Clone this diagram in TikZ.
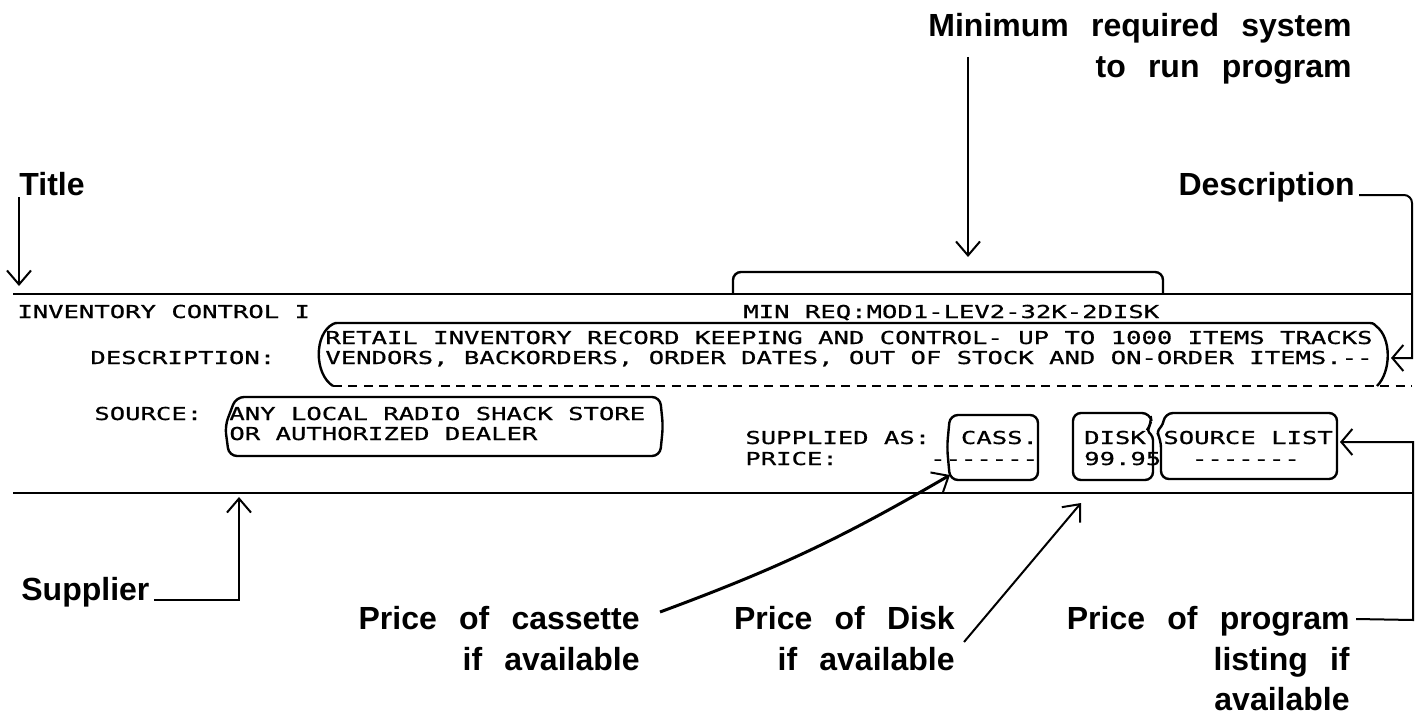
\documentclass[tikz,border=0pt]{standalone}
\usepackage{fontspec}
\setmainfont{Liberation Sans}[WordSpace=2.5]
\newfontfamily\mono{DejaVu Sans Mono}[FakeStretch=1.437,FakeBold=0.8]
\usetikzlibrary{arrows.meta}
\begin{document}
\begin{tikzpicture}[x=0.5pt,y=-0.5pt,
  lbl/.style={font=\fontsize{16}{18}\selectfont\bfseries, inner sep=0pt},
  mt/.style={font=\mono\fontsize{8.9}{10}\selectfont, inner sep=0pt, anchor=base west},
  rule/.style={line width=1pt},
  box/.style={line width=1.2pt, rounded corners=4pt},
  barb/.style={-{Straight Barb[length=7pt,width=12pt,line width=1pt]}},
  wbarb/.style={-{Straight Barb[length=5.5pt,width=13pt,line width=1pt]}},
  conn/.style={line width=1pt},
]
\useasboundingbox (0,0) rectangle (1417,717);

% rules
\coordinate (topL) at (13,294); \coordinate (topR) at (1413,294);
\coordinate (botL) at (13,493); \coordinate (botR) at (1413,493);
\draw[rule] (topL) -- (topR);
\draw[rule] (botL) -- (botR);
\coordinate (dashL) at (333,386); \coordinate (dashR) at (1412,386);
\draw[line width=1pt, dash pattern=on 4.5pt off 3.2pt] (dashL) -- (dashR);

% labels
\node[lbl, anchor=base east] (minA) at (1352,37) {Minimum required system};
\node[lbl, anchor=base east] (minB) at (1352,77) {to run program};
\node[lbl, anchor=base west] (title) at (19,195) {Title};
\node[lbl, anchor=base east] (desc) at (1355,195) {Description};
\node[lbl, anchor=base west] (sup) at (21,600) {Supplier};
\node[lbl, anchor=base east] (pc1) at (640,629) {Price of cassette};
\node[lbl, anchor=base east] (pc2) at (640,670) {if available};
\node[lbl, anchor=base east] (pd1) at (955,629) {Price of Disk};
\node[lbl, anchor=base east] (pd2) at (955,670) {if available};
\node[lbl, anchor=base east] (pp1) at (1350,629) {Price of program};
\node[lbl, anchor=base east] (pp2) at (1350,670) {listing if};
\node[lbl, anchor=base east] (pp3) at (1350,710) {available};

% listing text
\node[mt] (inv) at (17,318) {INVENTORY CONTROL I};
\node[mt] (minreq) at (743,318) {MIN REQ:MOD1-LEV2-32K-2DISK};
\node[mt] (desclbl) at (90,364) {DESCRIPTION:};
\node[mt] (d1) at (325,344) {RETAIL INVENTORY RECORD KEEPING AND CONTROL- UP TO 1000 ITEMS TRACKS};
\node[mt] (d2) at (325,364) {VENDORS, BACKORDERS, ORDER DATES, OUT OF STOCK AND ON-ORDER ITEMS.--};
\node[mt] (srclbl) at (94,420) {SOURCE:};
\node[mt] (s1) at (229,420) {ANY LOCAL RADIO SHACK STORE};
\node[mt] (s2) at (229,440) {OR AUTHORIZED DEALER};
\node[mt] (supas) at (745,444) {SUPPLIED AS:};
\node[mt] (cass) at (960.6,444) {CASS.};
\node[mt] (disk) at (1083.8,444) {DISK};
\node[mt] (slist) at (1163,444) {SOURCE LIST};
\node[mt] (price) at (745,465) {PRICE:};
\node[mt] (pcass) at (929.8,465) {-------};
\node[mt] (pdisk) at (1083.8,465) {99.95};
\node[mt] (plist) at (1191.6,465) {-------};

% boxes
\draw[box] (733,294) -- (733,272) -- (1163,272) -- (1163,294);
\draw[line width=1.2pt] (333,386) .. controls (314,374) and (314,334) .. (333,324)
  .. controls (335,323) .. (340,323) -- (1366,323) .. controls (1373,323) .. (1376,326)
  .. controls (1392,338) and (1391,372) .. (1377,386);
\draw[box] (236,397) -- (660,397) -- (663,426) -- (660,456) -- (229,456) -- (225,426) -- cycle;
\draw[box] (950,415) -- (1038,415) -- (1038,480) -- (950,480) -- (947,447) -- cycle;
\draw[box] (1073,413) -- (1150,413) -- (1152,424) [rounded corners=1.5pt]-- (1147,430) -- (1153,437) [rounded corners=4pt]-- (1153,480) -- (1073,480) -- cycle;
\draw[box] (1165,413) -- (1337,413) -- (1337,479) -- (1161,479) -- (1161,440) [rounded corners=1.5pt]-- (1157,432) -- (1163,424) [rounded corners=4pt]-- cycle;

% connectors
\coordinate (minTop) at (968,57); \coordinate (minTip) at (968,257);
\draw[conn, barb] (minTop) -- (minTip);
\coordinate (titleTop) at (19,197); \coordinate (titleTip) at (19,286);
\draw[conn, barb] (titleTop) -- (titleTip);
\coordinate (descTip) at (1391,358);
\draw[conn, wbarb, rounded corners=4pt] ([xshift=2pt]desc.base east) -- (1412,195) [sharp corners]-- (1412,358) -- (descTip);
\coordinate (supCorner) at (239,600); \coordinate (supTip) at (239,497);
\draw[conn, barb] ([xshift=2pt]sup.base east) -- (supCorner) -- (supTip);
\coordinate (cassStart) at (660,612); \coordinate (cassTip) at (950,475);
\draw[line width=1.5pt, barb] (cassStart) to[bend right=5] (cassTip);
\coordinate (diskStart) at (964,642); \coordinate (diskTip) at (1081,503);
\draw[conn, barb] (diskStart) -- (diskTip);
\coordinate (progCorner) at (1413,620); \coordinate (progTip) at (1340,442);
\draw[conn, wbarb] ([xshift=3pt,yshift=5pt]pp1.base east) -- (progCorner) -- (1413,442) -- (progTip);
\end{tikzpicture}
\end{document}
